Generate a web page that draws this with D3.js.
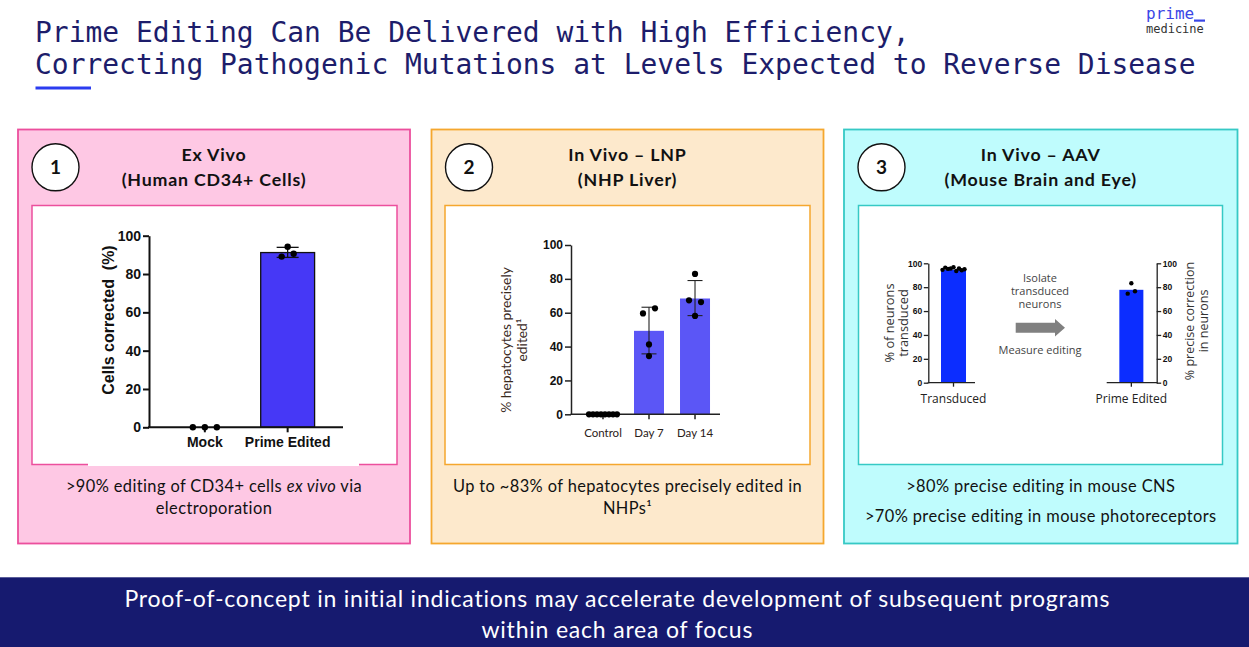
<!DOCTYPE html>
<html><head><meta charset="utf-8">
<script src="https://cdn.jsdelivr.net/npm/d3@7"></script>
<style>body{margin:0;background:#fff;} svg{display:block}</style>
</head><body>
<script>
// ---------------- DATA ----------------
const titleLines = ["Prime Editing Can Be Delivered with High Efficiency,",
                    "Correcting Pathogenic Mutations at Levels Expected to Reverse Disease"];
const logoWords = ["prime", "medicine"];
const panelNumbers = ["1", "2", "3"];
const panelHeadings = [["Ex Vivo", "(Human CD34+ Cells)"],
                       ["In Vivo \u2013 LNP", "(NHP Liver)"],
                       ["In Vivo \u2013 AAV", "(Mouse Brain and Eye)"]];
const panelNotes = [
  [[[">90% editing of CD34+ cells ", false], ["ex vivo", true], [" via", false]], [["electroporation", false]]],
  [[["Up to ~83% of hepatocytes precisely edited in", false]], [["NHPs\u00B9", false]]],
  [[[">80% precise editing in mouse CNS", false]], [[">70% precise editing in mouse photoreceptors", false]]]
];
const bannerLines = ["Proof-of-concept in initial indications may accelerate development of subsequent programs",
                     "within each area of focus"];

// Panel 1: Ex vivo
const exVivoCategories = ["Mock", "Prime Edited"];
const exVivoMeans = [0, 91.2];
const exVivoPoints = [[0, 0, 0], [89.1, 94.2, 90.6]];
const exVivoTicks = [0, 20, 40, 60, 80, 100];
const exVivoYLabel = ["Cells corrected\u00A0\u00A0(%)"];

// Panel 2: In vivo LNP
const lnpCategories = ["Control", "Day 7", "Day 14"];
const lnpMeans = [0, 49.3, 68.4];
const lnpPoints = [[0, 0, 0, 0, 0, 0, 0, 0], [59.6, 62.6, 41.3, 34.4], [67.3, 82.9, 66.3, 58.1]];
const lnpTicks = [0, 20, 40, 60, 80, 100];
const lnpYLabel = ["% hepatocytes precisely", "edited\u00B9"];

// Panel 3: In vivo AAV
const aavLeftCategories = ["Transduced"];
const aavLeftMeans = [94.6];
const aavLeftPoints = [[94.5, 96.4, 95.3, 95.6, 96.7, 93.6, 95.6, 94.2, 95.0]];
const aavRightCategories = ["Prime Edited"];
const aavRightMeans = [77.8];
const aavRightPoints = [[74.6, 83.3, 76.6]];
const aavTicks = [0, 20, 40, 60, 80, 100];
const aavLeftYLabel = ["% of neurons", "transduced"];
const aavRightYLabel = ["% precise correction", "in neurons"];
const aavArrowTop = ["Isolate", "transduced", "neurons"];
const aavArrowBottom = ["Measure editing"];

// ---------------- DRAWING ----------------
const W = 1249, H = 647;
const svg = d3.select("body").append("svg").attr("width", W).attr("height", H);
svg.append("rect").attr("width", W).attr("height", H).attr("fill", "#fff");

const MONO = "'DejaVu Sans Mono', monospace";
const HUM = "Lato, 'Open Sans', sans-serif";
const ARIAL = "'Liberation Sans', Arial, sans-serif";
const SEGOE = "'Open Sans', 'DejaVu Sans', sans-serif";

// Title
svg.append("g").selectAll("text").data(titleLines).join("text")
  .attr("x", 35).attr("y", (d, i) => 41.7 + i * 32.5)
  .attr("font-family", MONO).attr("font-size", 27.95).attr("fill", "#1d1d6b")
  .text(d => d);
svg.append("rect").attr("x", 35.5).attr("y", 86.5).attr("width", 55.5).attr("height", 3).attr("fill", "#2b3cf0");

// Logo
svg.append("text").attr("x", 1146).attr("y", 19).attr("font-family", MONO).attr("font-size", 16)
  .attr("fill", "#3a46e6").text(logoWords[0]);
svg.append("rect").attr("x", 1194).attr("y", 19.5).attr("width", 11).attr("height", 2.2).attr("fill", "#3a46e6");
svg.append("text").attr("x", 1146).attr("y", 33).attr("font-family", MONO).attr("font-size", 12)
  .attr("fill", "#333").text(logoWords[1]);

// Panels
const panels = [
  {x: 18, w: 392, fill: "#fec8e4", stroke: "#ec4f9d", ix: 32, iw: 365},
  {x: 431.5, w: 392, fill: "#fde9cc", stroke: "#f5a72e", ix: 445, iw: 365},
  {x: 844, w: 393.5, fill: "#bffcfd", stroke: "#36c9c5", ix: 858.5, iw: 364}
];
const noteBaselines = [[492.3, 514.3], [492.3, 514.3], [491.7, 521.7]];
panels.forEach((p, i) => {
  const g = svg.append("g");
  g.append("rect").attr("x", p.x).attr("y", 129.5).attr("width", p.w).attr("height", 414)
    .attr("fill", p.fill).attr("stroke", p.stroke).attr("stroke-width", 1.8);
  g.append("rect").attr("x", p.ix).attr("y", 205.5).attr("width", p.iw).attr("height", 259)
    .attr("fill", "#fff").attr("stroke", p.stroke).attr("stroke-width", 1.5);
  const cx = p.x + 37.5;
  g.append("circle").attr("cx", cx).attr("cy", 167.3).attr("r", 23.5)
    .attr("fill", "#fff").attr("stroke", "#111").attr("stroke-width", 1.4);
  g.append("text").attr("x", cx).attr("y", 174).attr("text-anchor", "middle")
    .attr("font-family", HUM).attr("font-weight", 700).attr("font-size", 19).attr("fill", "#111")
    .text(panelNumbers[i]);
  const mid = p.x + p.w / 2;
  g.selectAll("text.h").data(panelHeadings[i]).join("text").attr("class", "h")
    .attr("x", mid).attr("y", (d, k) => 160.7 + k * 25.5).attr("text-anchor", "middle")
    .attr("font-family", HUM).attr("font-weight", 700).attr("font-size", 17.8).attr("letter-spacing", 0.8)
    .attr("fill", "#111").text(d => d);
  panelNotes[i].forEach((line, k) => {
    const t = g.append("text").attr("x", mid).attr("y", noteBaselines[i][k]).attr("text-anchor", "middle")
      .attr("font-family", HUM).attr("font-size", 16.4).attr("letter-spacing", 0.4).attr("fill", "#111");
    t.selectAll("tspan").data(line).join("tspan")
      .attr("font-style", d => d[1] ? "italic" : "normal").text(d => d[0]);
  });
});
// chart image in panel 1 covers part of the inner box's lower border
svg.append("rect").attr("x", 88).attr("y", 455).attr("width", 271).attr("height", 11).attr("fill", "#fff");

// Banner
svg.append("rect").attr("x", 0).attr("y", 577.3).attr("width", W).attr("height", H - 577.3).attr("fill", "#161a6f");
svg.append("g").selectAll("text").data(bannerLines).join("text")
  .attr("x", 617.3).attr("y", (d, i) => 607 + i * 31).attr("text-anchor", "middle")
  .attr("font-family", HUM).attr("font-size", 23).attr("letter-spacing", 0.8).attr("fill", "#fff").text(d => d);

// ---- helpers ----
function spreadOffsets(vals, y, thr, dx, maxW) {
  const offs = vals.map(() => 0);
  if (!vals.length) return offs;
  const idx = vals.map((v, i) => i).sort((a, b) => y(vals[b]) - y(vals[a]));
  const clusters = [];
  let c = [idx[0]];
  for (let k = 1; k < idx.length; k++) {
    if (Math.abs(y(vals[idx[k]]) - y(vals[idx[k - 1]])) < thr) c.push(idx[k]);
    else { clusters.push(c); c = [idx[k]]; }
  }
  clusters.push(c);
  clusters.forEach(cl => {
    cl.sort((a, b) => a - b);
    const n = cl.length;
    const s = n > 1 ? Math.min(dx, maxW / (n - 1)) : 0;
    cl.forEach((j, i) => offs[j] = (i - (n - 1) / 2) * s);
  });
  return offs;
}

function barChart(o) {
  const g = svg.append("g");
  const x = d3.scaleBand().domain(o.categories).range(o.xRange).paddingInner(o.pad).paddingOuter(o.padOuter);
  const y = d3.scaleLinear().domain([0, 100]).range([o.y0, o.y1]);
  const bw = x.bandwidth();
  const data = o.categories.map((c, i) => ({c, mean: o.means[i], pts: o.points[i]}));

  g.selectAll("rect.bar").data(data.filter(d => d.mean > 0)).join("rect").attr("class", "bar")
    .attr("x", d => x(d.c)).attr("width", bw)
    .attr("y", d => y(d.mean)).attr("height", d => y(0) - y(d.mean))
    .attr("fill", o.barFill).attr("stroke", o.barStroke || "none").attr("stroke-width", o.barStrokeW || 0);

  if (o.errorBars) {
    data.forEach(d => {
      const sd = d3.deviation(d.pts);
      if (!sd) return;
      const m = d3.mean(d.pts);
      const cx = x(d.c) + bw / 2;
      const eg = g.append("g").attr("stroke", o.errColor).attr("stroke-width", o.errW).attr("fill", "none");
      eg.append("line").attr("x1", cx).attr("x2", cx).attr("y1", y(m - sd)).attr("y2", y(m + sd));
      [m - sd, m + sd].forEach(v => eg.append("line").attr("x1", cx - o.cap / 2).attr("x2", cx + o.cap / 2)
        .attr("y1", y(v)).attr("y2", y(v)));
    });
  }

  const yAxis = (o.side === "right" ? d3.axisRight(y) : d3.axisLeft(y))
    .tickValues(o.ticks).tickSize(o.tickLen).tickSizeOuter(0).tickPadding(o.tickPad).tickFormat(d3.format("d"));
  const ya = g.append("g").attr("transform", `translate(${o.yAxisX},0)`).call(yAxis);
  ya.selectAll("path,line").attr("stroke", o.axisColor).attr("stroke-width", o.axisW);
  ya.selectAll("text").attr("font-family", ARIAL).attr("font-weight", 700).attr("font-size", o.tickFont)
    .attr("fill", o.tickColor);

  g.append("line").attr("x1", o.xAxisRange[0]).attr("x2", o.xAxisRange[1]).attr("y1", o.y0).attr("y2", o.y0)
    .attr("stroke", o.axisColor).attr("stroke-width", o.axisW);
  const xAxis = d3.axisBottom(x).tickSize(o.xTickLen).tickSizeOuter(0);
  const xa = g.append("g").attr("transform", `translate(0,${o.y0})`).call(xAxis);
  xa.select(".domain").remove();
  xa.selectAll("line").attr("stroke", o.axisColor).attr("stroke-width", o.axisW);
  xa.selectAll("text").attr("y", o.catBaseline - o.y0).attr("dy", 0)
    .attr("font-family", o.catFont).attr("font-weight", o.catWeight).attr("font-size", o.catSize).attr("fill", o.catColor);

  data.forEach(d => {
    const offs = spreadOffsets(d.pts, y, o.thr, o.dx, o.maxW);
    g.append("g").selectAll("circle").data(d.pts).join("circle")
      .attr("cx", (v, i) => x(d.c) + bw / 2 + offs[i]).attr("cy", v => y(v)).attr("r", o.dotR)
      .attr("fill", "#000");
  });

  const lab = g.append("text").attr("transform", `translate(${o.labX},${o.labY}) rotate(-90)`)
    .attr("text-anchor", "middle").attr("font-family", o.labFont).attr("font-weight", o.labWeight)
    .attr("font-size", o.labSize).attr("fill", o.labColor);
  lab.selectAll("tspan").data(o.yLabel).join("tspan").attr("x", 0).attr("y", (d, i) => i * o.labLead).text(d => d);
  return g;
}

// Panel 1 chart
barChart({
  categories: exVivoCategories, means: exVivoMeans, points: exVivoPoints, ticks: exVivoTicks, yLabel: exVivoYLabel,
  xRange: [149.5, 343], pad: 0.349, padOuter: 0.343, y0: 427.3, y1: 235.7,
  barFill: "#4638f6", barStroke: "#111", barStrokeW: 1.3,
  errorBars: true, errColor: "#111", errW: 1.3, cap: 22,
  side: "left", yAxisX: 149, tickLen: 6, tickPad: 2, axisColor: "#111", axisW: 2, tickFont: 14, tickColor: "#111",
  xAxisRange: [148, 343], xTickLen: 5, catBaseline: 446.7, catFont: ARIAL, catWeight: 700, catSize: 14, catColor: "#111",
  thr: 6, dx: 12, maxW: 30, dotR: 3.2,
  labX: 113.5, labY: 320, labFont: ARIAL, labWeight: 700, labSize: 16, labColor: "#111", labLead: 16
});

// Panel 2 chart
barChart({
  categories: lnpCategories, means: lnpMeans, points: lnpPoints, ticks: lnpTicks, yLabel: lnpYLabel,
  xRange: [578, 720], pad: 0.348, padOuter: 0.217, y0: 414.3, y1: 245,
  barFill: "#5b56f6",
  errorBars: true, errColor: "#222", errW: 1.1, cap: 15,
  side: "left", yAxisX: 571, tickLen: 6, tickPad: 2, axisColor: "#222", axisW: 1.5, tickFont: 12, tickColor: "#111",
  xAxisRange: [570.5, 720], xTickLen: 5, catBaseline: 437, catFont: HUM, catWeight: 400, catSize: 11.5, catColor: "#2b2018",
  thr: 6, dx: 12, maxW: 28, dotR: 3.1,
  labX: 510.7, labY: 340, labFont: HUM, labWeight: 400, labSize: 13.8, labColor: "#3a2a1e", labLead: 16.3
});

// Panel 3 charts
barChart({
  categories: aavLeftCategories, means: aavLeftMeans, points: aavLeftPoints, ticks: aavTicks, yLabel: aavLeftYLabel,
  xRange: [928, 979], pad: 0.342, padOuter: 0.342, y0: 382.7, y1: 263.3,
  barFill: "#0c2dff", errorBars: false,
  side: "left", yAxisX: 928.3, tickLen: 4.5, tickPad: 1.5, axisColor: "#222", axisW: 1.3, tickFont: 8.5, tickColor: "#111",
  xAxisRange: [927.7, 975], xTickLen: 4, catBaseline: 403.5, catFont: SEGOE, catWeight: 400, catSize: 12, catColor: "#222",
  thr: 4.4, dx: 7.3, maxW: 22, dotR: 2.2,
  labX: 894, labY: 323, labFont: SEGOE, labWeight: 400, labSize: 12.8, labColor: "#333", labLead: 13.5
});
barChart({
  categories: aavRightCategories, means: aavRightMeans, points: aavRightPoints, ticks: aavTicks, yLabel: aavRightYLabel,
  xRange: [1106, 1156.7], pad: 0.357, padOuter: 0.357, y0: 382.7, y1: 263.3,
  barFill: "#0c2dff", errorBars: false,
  side: "right", yAxisX: 1156.7, tickLen: 4.5, tickPad: 1.5, axisColor: "#222", axisW: 1.3, tickFont: 8.5, tickColor: "#111",
  xAxisRange: [1106.7, 1157.3], xTickLen: 4, catBaseline: 403.5, catFont: SEGOE, catWeight: 400, catSize: 12, catColor: "#222",
  thr: 4.4, dx: 7.3, maxW: 22, dotR: 2.2,
  labX: 1194, labY: 321, labFont: SEGOE, labWeight: 400, labSize: 12.5, labColor: "#333", labLead: 13.5
});

// Arrow and annotation between the two AAV charts
const ag = svg.append("g");
ag.selectAll("text.t").data(aavArrowTop).join("text").attr("class", "t")
  .attr("x", 1040).attr("y", (d, i) => 282 + i * 13).attr("text-anchor", "middle")
  .attr("font-family", SEGOE).attr("font-size", 11).attr("fill", "#444").text(d => d);
ag.selectAll("text.b").data(aavArrowBottom).join("text").attr("class", "b")
  .attr("x", 1040).attr("y", 354).attr("text-anchor", "middle")
  .attr("font-family", SEGOE).attr("font-size", 11).attr("fill", "#444").text(d => d);
ag.append("path")
  .attr("d", "M1015.7,322.7 L1055,322.7 L1055,319 L1065,327.7 L1055,336.5 L1055,332.7 L1015.7,332.7 Z")
  .attr("fill", "#808080");
</script>
</body></html>
